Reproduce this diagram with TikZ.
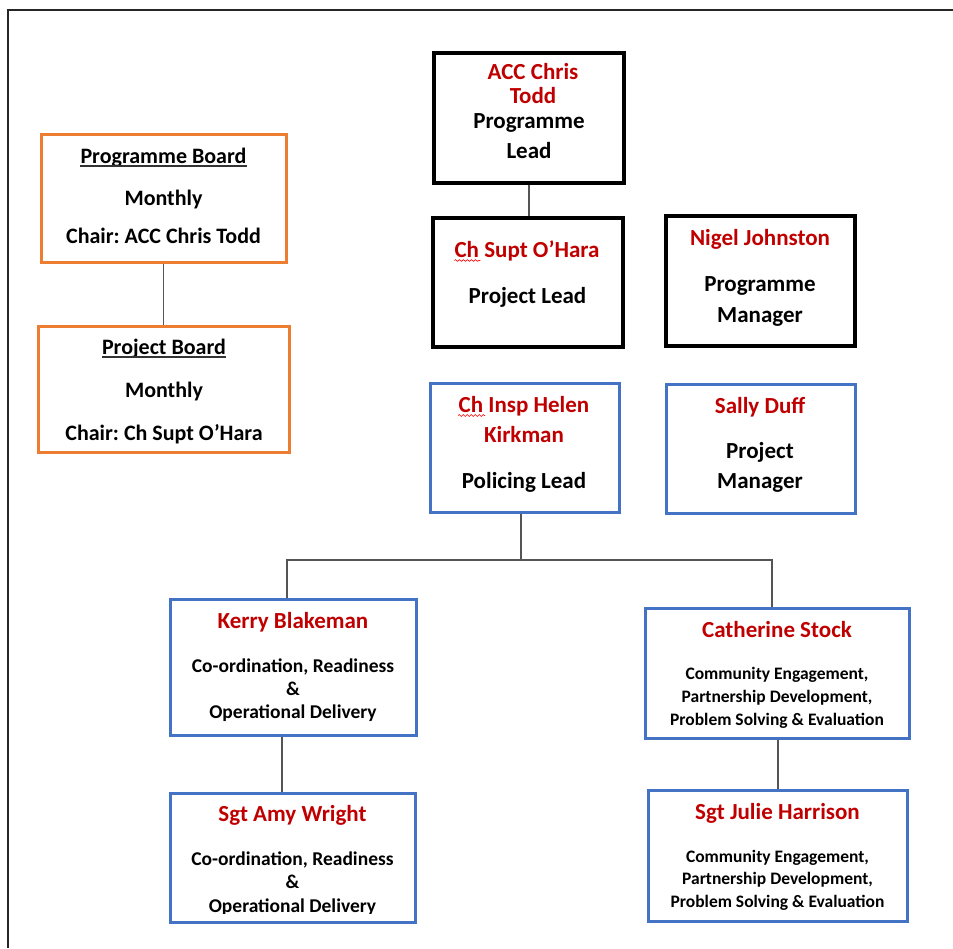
\documentclass[tikz,border=0pt]{standalone}
\usepackage{fontspec}
\setmainfont{Carlito}
\frenchspacing
\usetikzlibrary{decorations.pathmorphing}
\definecolor{boardorange}{RGB}{237,125,49}
\definecolor{leadblue}{RGB}{68,114,196}
\definecolor{namered}{RGB}{192,0,0}
\definecolor{conngray}{RGB}{85,85,85}

\begin{document}
\begin{tikzpicture}[x=1pt,y=-1pt,
    dims/.style 2 args={minimum width=#1pt, minimum height=#2pt},
    box/.style={draw=#1, line width=3pt, rectangle, inner sep=0pt},
    board/.style={box=boardorange},
    lead/.style={box=black, line width=3.5pt},
    team/.style={box=leadblue},
    who/.style={font=\bfseries\fontsize{23}{#1}\selectfont, text=namered, anchor=base, align=center, inner sep=0pt},
    who/.default=24,
    duty/.style={font=\bfseries\fontsize{23}{#1}\selectfont, anchor=base, align=center, inner sep=0pt},
    duty/.default=30,
    bdtext/.style={font=\bfseries\fontsize{22}{#1}\selectfont, anchor=base, align=center, inner sep=0pt},
    bdtext/.default=40,
    conn/.style={draw=conngray, line width=1.5pt},
    squiggle/.style={draw=red, line width=0.6pt, decorate, decoration={snake, amplitude=0.9pt, segment length=4pt}}
]
    \useasboundingbox (0,0) rectangle (953,948);

    % page frame
    \draw[line width=2.5pt, black!85] (953,10) -- (8,10) -- (8,948);

    % Boards on the left (multi-line text sits on its last baseline)
    \node[board, dims={245}{128}] (pgBoard) at (163.5,198) {};
    \node[board, dims={251}{126}] (prBoard) at (163.5,389) {};
    \node[bdtext] (pgHead) at (163.5,163) {Programme Board};
    \node[bdtext=38] (pgBody) at (163.5,243) {Monthly\\Chair: ACC Chris Todd};
    \node[bdtext] (prHead) at (164,354) {Project Board};
    \node[bdtext=43] (prBody) at (164,440) {Monthly\\Chair: Ch Supt O’Hara};
    \draw[line width=1.2pt, black!80] ([yshift=-3pt]pgHead.base west) -- ([yshift=-3pt]pgHead.base east);
    \draw[line width=1.2pt, black!80] ([yshift=-3pt]prHead.base west) -- ([yshift=-3pt]prHead.base east);
    \draw[conn] (pgBoard.south) -- (prBoard.north);

    % Leads (black boxes)
    \node[lead, dims={190}{130}] (acc) at (529,118) {};
    \node[lead, dims={190}{129}] (ohara) at (528,282.5) {};
    \node[lead, dims={189}{130}] (nigel) at (760.5,281) {};
    \node[who] (accName) at (533,103) {ACC Chris\\Todd};
    \node[duty] (accRole) at (529,158) {Programme\\Lead};
    \node[who] (oharaName) at (527,257) {Ch Supt O’Hara};
    \node[duty] (oharaRole) at (527.5,303) {Project Lead};
    \node[who] (nigelName) at (760,245) {Nigel Johnston};
    \node[duty=31] (nigelRole) at (760,322) {Programme\\Manager};
    \draw[conn] (acc.south) -- (acc.south |- ohara.north);

    % Policing lead and project manager (blue boxes)
    \node[team, dims={189}{129}] (helen) at (524.5,447.5) {};
    \node[team, dims={189}{129}] (sally) at (760.5,448.5) {};
    \node[who=30] (helenName) at (524,442) {Ch Insp Helen\\Kirkman};
    \node[duty] (helenRole) at (524,488) {Policing Lead};
    \node[who] (sallyName) at (760,413) {Sally Duff};
    \node[duty] (sallyRole) at (760,488) {Project\\Manager};

    % spelling marks under Ch
    \draw[squiggle] ([yshift=-3.5pt]oharaName.base west) -- ++(26,0);
    \draw[squiggle] (458,415.5) -- ++(27,0);

    % Workstream leads
    \node[team, dims={246}{136}] (kerry) at (293,667) {};
    \node[team, dims={245}{129}] (amy) at (292.5,857.5) {};
    \node[team, dims={264}{130}] (cath) at (777,673) {};
    \node[team, dims={259}{131}] (julie) at (777.5,855.5) {};

    \node[who] (kerryName) at (293,628) {Kerry Blakeman};
    \node[duty=23, font=\bfseries\fontsize{19.5}{23}\selectfont] (kerryRole) at (293,718) {Co-ordination, Readiness\\\&\\Operational Delivery};
    \node[who] (amyName) at (292.5,821) {Sgt Amy Wright};
    \begin{scope}
        \clip (169,780) rectangle (416,913);
        \node[duty=23.5, font=\bfseries\fontsize{19.5}{23.5}\selectfont] (amyRole) at (292.5,912) {Co-ordination, Readiness\\\&\\Operational Delivery};
    \end{scope}
    \node[who] (cathName) at (777,637) {Catherine Stock};
    \node[duty=23, font=\bfseries\fontsize{17.5}{23}\selectfont] (cathRole) at (777,725) {Community Engagement,\\Partnership Development,\\Problem Solving \& Evaluation};
    \node[who] (julieName) at (777.5,819) {Sgt Julie Harrison};
    \node[duty=22.5, font=\bfseries\fontsize{17.5}{22.5}\selectfont] (julieRole) at (777.5,907) {Community Engagement,\\Partnership Development,\\Problem Solving \& Evaluation};

    % tree below the policing lead
    \coordinate (fork) at (521,560);
    \draw[conn] (fork |- helen.south) -- (fork);
    \draw[conn] ([xshift=-6pt]kerry.north) |- (fork) -| ([xshift=-5pt]cath.north);
    \draw[conn] ([xshift=-11pt]kerry.south) -- ([xshift=-11pt]kerry.south |- amy.north);
    \draw[conn] ([xshift=1pt]cath.south) -- ([xshift=1pt]cath.south |- julie.north);
\end{tikzpicture}
\end{document}
